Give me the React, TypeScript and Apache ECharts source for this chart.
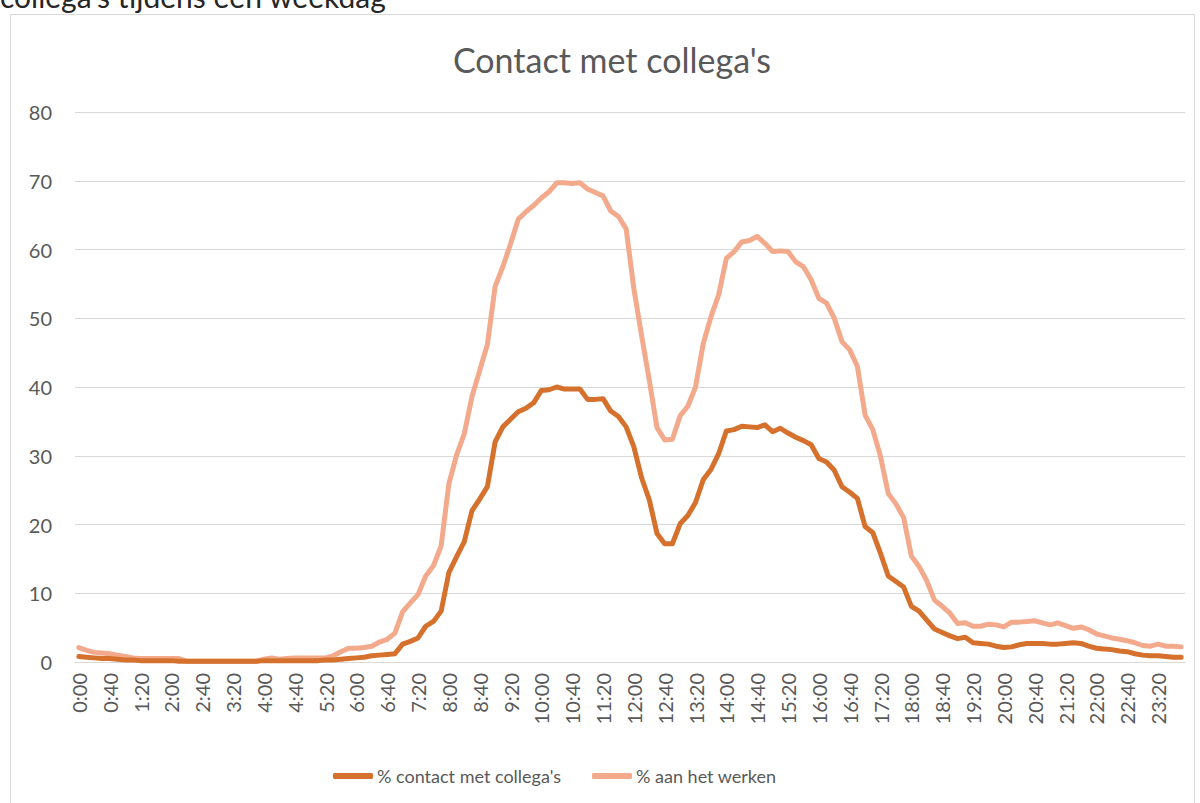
import React, { useEffect, useRef } from "react";
import * as echarts from "echarts";

const timeLabels: string[] = [
  "0:00","0:10","0:20","0:30","0:40","0:50","1:00","1:10","1:20","1:30","1:40","1:50",
  "2:00","2:10","2:20","2:30","2:40","2:50","3:00","3:10","3:20","3:30","3:40","3:50",
  "4:00","4:10","4:20","4:30","4:40","4:50","5:00","5:10","5:20","5:30","5:40","5:50",
  "6:00","6:10","6:20","6:30","6:40","6:50","7:00","7:10","7:20","7:30","7:40","7:50",
  "8:00","8:10","8:20","8:30","8:40","8:50","9:00","9:10","9:20","9:30","9:40","9:50",
  "10:00","10:10","10:20","10:30","10:40","10:50","11:00","11:10","11:20","11:30","11:40","11:50",
  "12:00","12:10","12:20","12:30","12:40","12:50","13:00","13:10","13:20","13:30","13:40","13:50",
  "14:00","14:10","14:20","14:30","14:40","14:50","15:00","15:10","15:20","15:30","15:40","15:50",
  "16:00","16:10","16:20","16:30","16:40","16:50","17:00","17:10","17:20","17:30","17:40","17:50",
  "18:00","18:10","18:20","18:30","18:40","18:50","19:00","19:10","19:20","19:30","19:40","19:50",
  "20:00","20:10","20:20","20:30","20:40","20:50","21:00","21:10","21:20","21:30","21:40","21:50",
  "22:00","22:10","22:20","22:30","22:40","22:50","23:00","23:10","23:20","23:30","23:40","23:50",
];

const contactCollegas: number[] = [
  0.8, 0.7, 0.6, 0.5, 0.5, 0.4, 0.3, 0.3, 0.2, 0.2, 0.2, 0.2,
  0.2, 0.1, 0.1, 0.1, 0.1, 0.1, 0.1, 0.1, 0.1, 0.1, 0.1, 0.1,
  0.2, 0.2, 0.2, 0.2, 0.2, 0.2, 0.2, 0.2, 0.3, 0.3, 0.4, 0.5,
  0.6, 0.7, 0.9, 1.0, 1.1, 1.2, 2.6, 3.0, 3.5, 5.2, 5.9, 7.4,
  13.0, 15.3, 17.5, 22.0, 23.7, 25.5, 32.0, 34.2, 35.3, 36.4, 36.9, 37.7,
  39.5, 39.6, 40.0, 39.7, 39.7, 39.7, 38.2, 38.2, 38.3, 36.5, 35.7, 34.2,
  31.3, 26.8, 23.6, 18.7, 17.2, 17.2, 20.1, 21.3, 23.2, 26.5, 28.0, 30.3,
  33.6, 33.8, 34.3, 34.2, 34.1, 34.5, 33.5, 34.0, 33.3, 32.7, 32.2, 31.6,
  29.6, 29.1, 27.9, 25.5, 24.7, 23.8, 19.7, 18.8, 15.8, 12.5, 11.7, 10.9,
  8.1, 7.4, 6.1, 4.8, 4.3, 3.8, 3.4, 3.6, 2.8, 2.7, 2.6, 2.3,
  2.1, 2.2, 2.5, 2.7, 2.7, 2.7, 2.6, 2.6, 2.7, 2.8, 2.7, 2.3,
  2.0, 1.9, 1.8, 1.6, 1.5, 1.2, 1.0, 0.9, 0.9, 0.8, 0.7, 0.7,
];

const aanHetWerken: number[] = [
  2.1, 1.7, 1.4, 1.3, 1.2, 1.0, 0.8, 0.6, 0.5, 0.5, 0.5, 0.5,
  0.5, 0.5, 0.1, 0.1, 0.1, 0.1, 0.1, 0.1, 0.1, 0.1, 0.1, 0.1,
  0.4, 0.6, 0.4, 0.5, 0.6, 0.6, 0.6, 0.6, 0.6, 0.9, 1.5, 2.0,
  2.0, 2.1, 2.3, 2.9, 3.3, 4.2, 7.3, 8.6, 9.8, 12.5, 14.0, 16.9,
  25.9, 30.1, 33.2, 38.6, 42.4, 46.2, 54.6, 57.5, 60.8, 64.4, 65.5, 66.4,
  67.5, 68.4, 69.7, 69.7, 69.6, 69.7, 68.8, 68.3, 67.8, 65.6, 64.8, 63.0,
  54.3, 47.5, 41.0, 34.1, 32.3, 32.4, 35.8, 37.2, 40.0, 46.3, 50.2, 53.4,
  58.7, 59.7, 61.1, 61.3, 61.9, 60.9, 59.7, 59.8, 59.7, 58.2, 57.5, 55.6,
  52.9, 52.2, 50.0, 46.6, 45.4, 43.0, 35.9, 33.8, 29.9, 24.5, 23.0, 21.0,
  15.4, 13.9, 11.8, 9.0, 8.1, 7.1, 5.6, 5.7, 5.2, 5.2, 5.5, 5.4,
  5.1, 5.8, 5.8, 5.9, 6.0, 5.7, 5.4, 5.7, 5.3, 4.9, 5.1, 4.7,
  4.1, 3.8, 3.5, 3.3, 3.1, 2.8, 2.4, 2.3, 2.6, 2.3, 2.3, 2.2,
];

const seriesNames = ["% contact met collega's", "% aan het werken"];
const chartTitle = "Contact met collega's";
const headingText = "collega's tijdens een weekdag";

const FONT = "Lato, 'Open Sans', sans-serif";
const TEXT = "#595959";

export default function App() {
  const ref = useRef<HTMLDivElement>(null);

  useEffect(() => {
    document.body.style.margin = "0";
    if (!ref.current) return;
    const chart = echarts.init(ref.current, undefined, { renderer: "svg" });
    chart.setOption({
      animation: false,
      backgroundColor: "#ffffff",
      textStyle: { fontFamily: FONT },
      graphic: [
        {
          type: "rect",
          shape: { x: 10.5, y: 14.5, width: 1184, height: 800 },
          style: { fill: "none", stroke: "#d9d9d9", lineWidth: 1 },
          silent: true,
        },
        {
          type: "text",
          x: 0,
          y: -4,
          style: {
            text: headingText,
            fontFamily: FONT,
            fontSize: 30,
            fill: "#262626",
            align: "left",
            verticalAlign: "middle",
          },
        },
        {
          type: "text",
          x: 612,
          y: 59,
          style: {
            text: chartTitle,
            fontFamily: FONT,
            fontSize: 34,
            fill: TEXT,
            align: "center",
            verticalAlign: "middle",
          },
        },
      ],
      legend: {
        left: 328,
        top: 762,
        itemWidth: 40,
        itemHeight: 6,
        itemGap: 31,
        icon: "roundRect",
        textStyle: { color: TEXT, fontSize: 18, fontFamily: FONT, padding: [0, 0, 0, -1] },
        data: seriesNames,
      },
      grid: { left: 75, right: 15, top: 112, bottom: 141, containLabel: false },
      xAxis: {
        type: "category",
        data: timeLabels,
        boundaryGap: true,
        axisLine: { show: true, lineStyle: { color: "#d9d9d9", width: 1 } },
        axisTick: { show: false },
        axisLabel: {
          interval: 3,
          rotate: 90,
          color: TEXT,
          fontSize: 20,
          fontFamily: FONT,
          margin: 11,
        },
      },
      yAxis: {
        type: "value",
        min: 0,
        max: 80,
        interval: 10,
        axisLine: { show: false },
        axisTick: { show: false },
        axisLabel: { color: TEXT, fontSize: 20, fontFamily: FONT, margin: 23 },
        splitLine: { lineStyle: { color: "#d9d9d9", width: 1 } },
      },
      series: [
        {
          name: seriesNames[0],
          type: "line",
          data: contactCollegas,
          showSymbol: false,
          color: "#d5712c",
          lineStyle: { width: 5, color: "#d5712c", cap: "round", join: "round" },
          z: 3,
        },
        {
          name: seriesNames[1],
          type: "line",
          data: aanHetWerken,
          showSymbol: false,
          color: "#f3a98b",
          lineStyle: { width: 5, color: "#f3a98b", cap: "round", join: "round" },
          z: 2,
        },
      ],
    });
    return () => chart.dispose();
  }, []);

  return <div ref={ref} style={{ width: 1200, height: 803 }} />;
}
